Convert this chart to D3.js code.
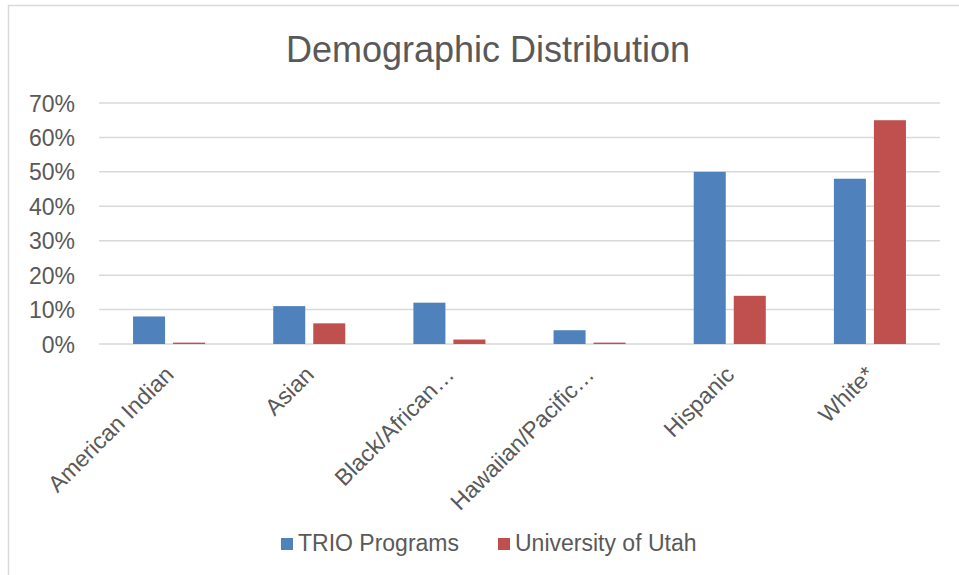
<!DOCTYPE html>
<html>
    <head>
        <title>Demographic Distribution</title>
        <script src="https://d3js.org/d3.v7.min.js"></script>
        <style>
            body { margin: 0; background: #fff; }
            text { font-family: "Liberation Sans", Arial, Helvetica, sans-serif; fill: #595959; }
        </style>
    </head>

    <body>
        <svg id="canvas" width="959" height="575"></svg>

        <script>
            // data
            var categories = ["American Indian", "Asian", "Black/African\u2026", "Hawaiian/Pacific\u2026", "Hispanic", "White*"];
            var seriesNames = ["TRIO Programs", "University of Utah"];
            var trioValues = [0.08, 0.11, 0.12, 0.04, 0.50, 0.48];
            var utahValues = [0.004, 0.06, 0.013, 0.004, 0.14, 0.65];
            var yTicks = [0, 0.1, 0.2, 0.3, 0.4, 0.5, 0.6, 0.7];
            var colors = ["#4F81BD", "#C0504D"];

            var svg = d3.select("#canvas");

            var margin = {top: 103, right: 19, bottom: 231, left: 99};
            var width = +svg.attr("width") - margin.left - margin.right;
            var height = +svg.attr("height") - margin.top - margin.bottom;

            // chart frame
            svg.append("rect")
                .attr("x", 8.5)
                .attr("y", 5.5)
                .attr("width", 1000)
                .attr("height", 600)
                .attr("fill", "none")
                .attr("stroke", "#d9d9d9")
                .attr("stroke-width", 1.5);

            svg.append("text")
                .attr("x", 488)
                .attr("y", 62)
                .attr("text-anchor", "middle")
                .style("font-size", "36px")
                .text("Demographic Distribution");

            var g = svg.append("g")
                .attr("transform", "translate(" + margin.left + "," + margin.top + ")");

            // Scales
            var x0 = d3.scaleBand()
                .domain(categories)
                .range([0, width])
                .paddingInner(0.486)
                .paddingOuter(0.243);
            var x1 = d3.scaleBand()
                .domain(seriesNames)
                .range([0, x0.bandwidth()])
                .paddingInner(0.2);
            var y = d3.scaleLinear()
                .domain([0, 0.7])
                .range([height, 0]);

            // gridlines
            g.append("g")
                .selectAll("line")
                .data(yTicks)
                .join("line")
                .attr("x1", 0)
                .attr("x2", width)
                .attr("y1", function(d){ return y(d) })
                .attr("y2", function(d){ return y(d) })
                .attr("stroke", "#d9d9d9")
                .attr("stroke-width", 1.5);

            // y axis
            var yAxis = g.append("g")
                .call(d3.axisLeft(y).tickValues(yTicks).tickFormat(d3.format(".0%")).tickSize(0).tickPadding(24));
            yAxis.select(".domain").remove();
            yAxis.selectAll("text")
                .style("font-size", "23px")
                .attr("dy", "0.35em");

            // bars
            var rows = categories.map(function(c, i){
                return {cat: c, vals: [trioValues[i], utahValues[i]]};
            });

            var groups = g.selectAll(".grp")
                .data(rows)
                .join("g")
                .attr("class", "grp")
                .attr("transform", function(d){ return "translate(" + x0(d.cat) + ",0)" });

            groups.selectAll("rect")
                .data(function(d){ return d.vals.map(function(v, j){ return {name: seriesNames[j], v: v, j: j} }) })
                .join("rect")
                .attr("x", function(d){ return x1(d.name) })
                .attr("width", x1.bandwidth())
                .attr("y", function(d){ return y(d.v) })
                .attr("height", function(d){ return height - y(d.v) })
                .attr("fill", function(d){ return colors[d.j] });

            // x axis labels
            var xAxis = g.append("g")
                .attr("transform", "translate(0," + height + ")")
                .call(d3.axisBottom(x0).tickSize(0));
            xAxis.select(".domain").remove();
            xAxis.selectAll("text")
                .style("font-size", "23px")
                .attr("text-anchor", "end")
                .attr("dy", 0)
                .attr("y", 0)
                .attr("transform", "translate(6,32) rotate(-45)");

            // legend
            var legend = svg.append("g");
            var legendX = [281, 498];
            seriesNames.forEach(function(name, i){
                legend.append("rect")
                    .attr("x", legendX[i])
                    .attr("y", 538)
                    .attr("width", 12)
                    .attr("height", 12)
                    .attr("fill", colors[i]);
                legend.append("text")
                    .attr("x", legendX[i] + 17)
                    .attr("y", 551)
                    .style("font-size", "23px")
                    .text(name);
            });
        </script>
    </body>
</html>
